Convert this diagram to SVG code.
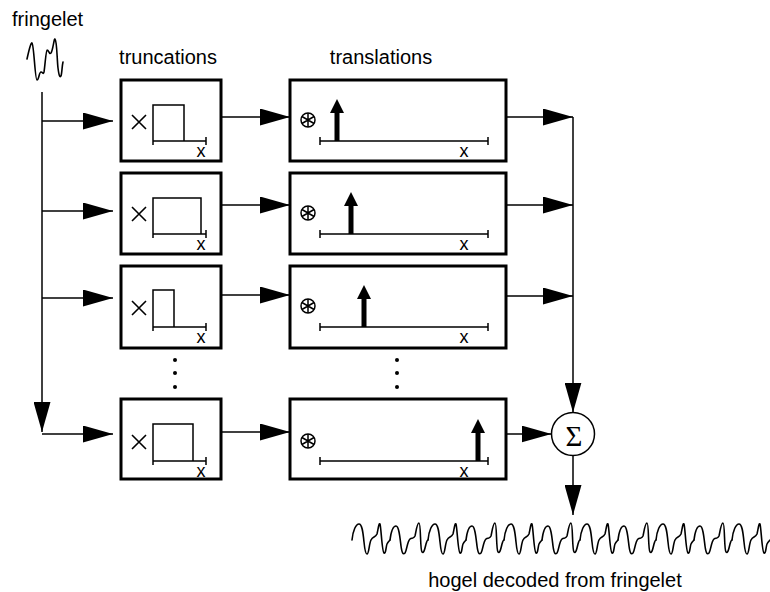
<svg xmlns="http://www.w3.org/2000/svg" xmlns:xlink="http://www.w3.org/1999/xlink" width="770" height="592" viewBox="0 0 770 592">
<style>
.lbl{font-family:"Liberation Sans",Arial,sans-serif;font-size:20px;fill:#000}
.ax{font-family:"Liberation Sans",Arial,sans-serif;font-size:18px;fill:#000;text-anchor:middle}
.box{fill:#fff;stroke:#000;stroke-width:3}
.ln{fill:none;stroke:#000;stroke-width:1.5}
.wave{fill:none;stroke:#000;stroke-width:1.6;stroke-linejoin:round;stroke-linecap:round}
.conn{fill:none;stroke:#000;stroke-width:1.5}
</style>
<defs>
<marker id="ah" viewBox="0 0 30 17" refX="30" refY="8.5" markerWidth="30" markerHeight="17" markerUnits="userSpaceOnUse" orient="auto">
<path d="M0,0 L30,8.5 L0,17 Z" fill="#000"/>
</marker>
<g id="impulse">
<rect x="-2.5" y="-30" width="5" height="30" fill="#000"/>
<path d="M-7,-28 L7,-28 L0,-42 Z" fill="#000"/>
</g>
<g id="times">
<path d="M-7,-7 L7,7 M-7,7 L7,-7" fill="none" stroke="#000" stroke-width="1.6"/>
</g>
<g id="conv" fill="none" stroke="#000" stroke-width="1.5">
<circle r="7"/>
<path d="M0,-7 V7 M-6.06,-3.5 L6.06,3.5 M-6.06,3.5 L6.06,-3.5"/>
</g>
<path id="motifA" d="M0,18 C1,8 4,2 7,2 C10,2 11,10 12,20 C13,30 14,32 15,32 C17,32 17,22 19,18 C21,14 23,16 25,12 C26,8 27,0 28,2 C29,4 30,30 32,31 C34,32 34,24 35,22 C36,20 37,19 38,18"/>
<path id="motifB" d="M0,18 C1,10 3,4 6,4 C9,4 10,16 11,24 C12,31 13,33 15,31 C17,28 17,20 20,17 C22,15 23,18 25,14 C26,10 27,1 29,1 C31,1 30,28 32,30 C34,32 35,26 36,22 C37,19 37,18 38,18"/>
</defs>
<rect width="770" height="592" fill="#fff"/>

<g id="fringelet">
<text class="lbl" x="12" y="26">fringelet</text>
<path class="wave" d="M27,59 C29,50 31,42 32,43 C34,45 35,80 37,80 C39,80 39,72 41,72 C43,72 43,75 44,72 C45,66 46,50 47,50 C49,50 49,55 51,53 C53,50 54,38 55,39 C57,41 57,60 58,68 C59,76 60,78 61,76 C62,73 62,66 63,62"/>
</g>

<text class="lbl" x="168" y="64" text-anchor="middle">truncations</text>
<text class="lbl" x="381" y="64" text-anchor="middle">translations</text>

<g id="trunc1">
<rect class="box" x="121" y="80" width="100" height="81"/>
<use xlink:href="#times" x="139" y="122"/>
<path class="ln" d="M153,141 V105 H184 V141 M153,137 V145 M153,141 H206 M206,137 V145"/>
<text class="ax" x="201" y="157">x</text>
</g>
<g id="trunc2">
<rect class="box" x="121" y="173" width="100" height="81"/>
<use xlink:href="#times" x="139" y="214"/>
<path class="ln" d="M153,234 V198 H201 V234 M153,230 V238 M153,234 H206 M206,230 V238"/>
<text class="ax" x="201" y="250">x</text>
</g>
<g id="trunc3">
<rect class="box" x="121" y="266" width="100" height="82"/>
<use xlink:href="#times" x="139" y="308"/>
<path class="ln" d="M153,327 V290 H174 V327 M153,323 V331 M153,327 H206 M206,323 V331"/>
<text class="ax" x="201" y="343">x</text>
</g>
<g id="trunc4">
<rect class="box" x="121" y="399" width="100" height="80"/>
<use xlink:href="#times" x="139" y="442"/>
<path class="ln" d="M153,461 V424 H193 V461 M153,457 V465 M153,461 H206 M206,457 V465"/>
<text class="ax" x="201" y="477">x</text>
</g>

<g id="trans1">
<rect class="box" x="290" y="80" width="216" height="81"/>
<use xlink:href="#conv" x="308" y="120"/>
<path class="ln" d="M320,141 H488 M320,137 V145 M488,137 V145"/>
<use xlink:href="#impulse" x="337" y="141"/>
<text class="ax" x="464" y="157">x</text>
</g>
<g id="trans2">
<rect class="box" x="290" y="173" width="216" height="81"/>
<use xlink:href="#conv" x="308" y="213"/>
<path class="ln" d="M320,234 H488 M320,230 V238 M488,230 V238"/>
<use xlink:href="#impulse" x="351" y="234"/>
<text class="ax" x="464" y="250">x</text>
</g>
<g id="trans3">
<rect class="box" x="290" y="266" width="216" height="82"/>
<use xlink:href="#conv" x="308" y="306"/>
<path class="ln" d="M320,327 H488 M320,323 V331 M488,323 V331"/>
<use xlink:href="#impulse" x="364" y="327"/>
<text class="ax" x="464" y="343">x</text>
</g>
<g id="trans4">
<rect class="box" x="290" y="399" width="216" height="80"/>
<use xlink:href="#conv" x="308" y="441"/>
<path class="ln" d="M320,461 H488 M320,457 V465 M488,457 V465"/>
<use xlink:href="#impulse" x="478" y="461"/>
<text class="ax" x="464" y="477">x</text>
</g>

<g id="dots" fill="#000">
<circle cx="175" cy="360" r="2"/><circle cx="175" cy="373" r="2"/><circle cx="175" cy="387" r="2"/>
<circle cx="397" cy="360" r="2"/><circle cx="397" cy="373" r="2"/><circle cx="397" cy="387" r="2"/>
</g>

<g id="sum">
<circle cx="573" cy="434" r="21.5" fill="#fff" stroke="#000" stroke-width="1.5"/>
<text x="574" y="446" font-family="'Liberation Serif','Times New Roman',serif" font-size="29" text-anchor="middle">Σ</text>
</g>

<g id="hogel">
<use xlink:href="#motifA" class="wave" transform="translate(352,522)"/>
<use xlink:href="#motifB" class="wave" transform="translate(390,522)"/>
<use xlink:href="#motifA" class="wave" transform="translate(428,522)"/>
<use xlink:href="#motifB" class="wave" transform="translate(466,522)"/>
<use xlink:href="#motifA" class="wave" transform="translate(504,522)"/>
<use xlink:href="#motifB" class="wave" transform="translate(542,522)"/>
<use xlink:href="#motifA" class="wave" transform="translate(580,522)"/>
<use xlink:href="#motifB" class="wave" transform="translate(618,522)"/>
<use xlink:href="#motifA" class="wave" transform="translate(656,522)"/>
<use xlink:href="#motifB" class="wave" transform="translate(694,522)"/>
<use xlink:href="#motifA" class="wave" transform="translate(732,522)"/>
<text class="lbl" x="555" y="587" text-anchor="middle">hogel decoded from fringelet</text>
</g>

<g id="connectors" class="conn" marker-end="url(#ah)">
<path d="M42,92 V432"/>
<path d="M42,121 H113"/>
<path d="M42,211 H113"/>
<path d="M42,298 H113"/>
<path d="M42,434 H113"/>
<path d="M221,117 H290"/>
<path d="M221,205 H290"/>
<path d="M221,295 H290"/>
<path d="M221,432 H290"/>
<path d="M506,117 H573"/>
<path d="M506,205 H573"/>
<path d="M506,296 H573"/>
<path d="M573,117 V412.5"/>
<path d="M506,434 H551.5"/>
<path d="M573,455.5 V515"/>
</g>
</svg>
